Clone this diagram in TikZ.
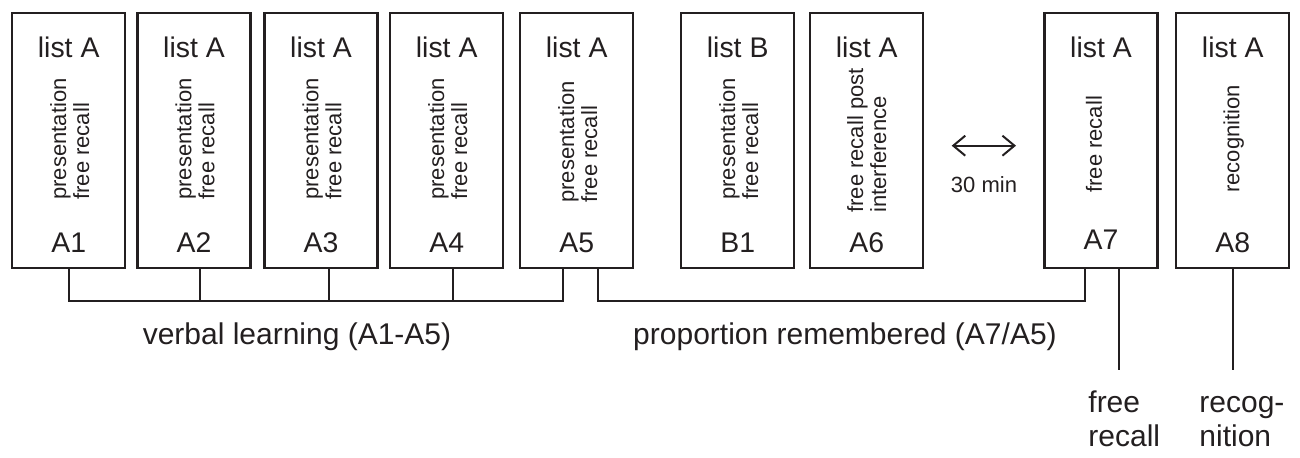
\documentclass[tikz,border=0pt]{standalone}
\usepackage{fontspec}
\setmainfont{Liberation Sans}
\usetikzlibrary{arrows.meta,calc}
\definecolor{ink}{RGB}{35,31,32}
\begin{document}
\begin{tikzpicture}[x=0.5pt,y=-0.5pt,
  every node/.style={text=ink},
  box/.style={draw=ink,line width=1.2pt,minimum width=56.5pt,minimum height=127.35pt,inner sep=0pt,anchor=north west},
  head/.style={font=\fontsize{14.2}{17}\selectfont,anchor=base,inner sep=0pt},
  rot/.style={font=\fontsize{11}{11.5}\selectfont,rotate=90,anchor=west,align=left,inner sep=0pt},
  big/.style={font=\fontsize{15}{17}\selectfont,inner sep=0pt},
  small/.style={font=\fontsize{11}{13}\selectfont,inner sep=0pt},
  conn/.style={draw=ink,line width=1pt},
  dbl/.style={draw=ink,line width=1pt,{Straight Barb[length=6pt,width=10pt,line width=1pt]}-{Straight Barb[length=6pt,width=10pt,line width=1pt]}}]
\useasboundingbox (0,0) rectangle (1300,458);

% boxes
\node[box] (A1) at (11,12) {};
\node[box] (A2) at (136.3,12) {};
\node[box] (A3) at (263.3,12) {};
\node[box] (A4) at (389,12) {};
\node[box] (A5) at (519,12) {};
\node[box] (B1) at (680,12) {};
\node[box] (A6) at (809,12) {};
\node[box] (A7) at (1043.3,12) {};
\node[box] (A8) at (1175,12) {};

% titles
\node[head] (A1h) at ($(A1.north)+(0,46)$) {list A};
\node[head] (A2h) at ($(A2.north)+(0,46)$) {list A};
\node[head] (A3h) at ($(A3.north)+(0,46)$) {list A};
\node[head] (A4h) at ($(A4.north)+(0,46)$) {list A};
\node[head] (A5h) at ($(A5.north)+(0,46)$) {list A};
\node[head] (B1h) at ($(B1.north)+(0,46)$) {list B};
\node[head] (A6h) at ($(A6.north)+(0,46)$) {list A};
\node[head] (A7h) at ($(A7.north)+(0,46)$) {list A};
\node[head] (A8h) at ($(A8.north)+(0,46)$) {list A};

% codes
\node[head] (A1c) at ($(A1.south)+(0,-17)$) {A1};
\node[head] (A2c) at ($(A2.south)+(0,-17)$) {A2};
\node[head] (A3c) at ($(A3.south)+(0,-17)$) {A3};
\node[head] (A4c) at ($(A4.south)+(0,-17)$) {A4};
\node[head] (A5c) at ($(A5.south)+(0,-17)$) {A5};
\node[head] (B1c) at ($(B1.south)+(0,-17)$) {B1};
\node[head] (A6c) at ($(A6.south)+(0,-17)$) {A6};
\node[head] (A7c) at ($(A7.south)+(0,-20)$) {A7};
\node[head] (A8c) at ($(A8.south)+(0,-17)$) {A8};

% rotated texts
\node[rot] (A1r) at ($(A1.north)+(1,188)$) {presentation\\free recall};
\node[rot] (A2r) at ($(A2.north)+(1,188)$) {presentation\\free recall};
\node[rot] (A3r) at ($(A3.north)+(1,188)$) {presentation\\free recall};
\node[rot] (A4r) at ($(A4.north)+(1,188)$) {presentation\\free recall};
\node[rot] (A5r) at ($(A5.north)+(1,191)$) {presentation\\free recall};
\node[rot] (B1r) at ($(B1.north)+(1,188)$) {presentation\\free recall};
\node[rot] (A6r) at ($(A6.north)+(0,201)$) {free recall post\\interference};
\node[rot] (A7r) at ($(A7.north)+(-7,181)$) {free recall};
\node[rot] (A8r) at ($(A8.north)+(1,181)$) {recognition};

% 30 min arrow
\coordinate (arL) at (951.7,145.7);
\coordinate (arR) at (1016,145.7);
\draw[dbl] (arL) -- (arR);
\node[small,anchor=base] (min) at (984,193) {30 min};

% verbal learning bracket
\draw[conn] (A1.south) |- ($(A5.south)+(-13.8,31.6)$) -- ($(A5.south)+(-13.8,0)$);
\draw[conn] ([xshift=3pt]A2.south) -- ++(0,31.6);
\draw[conn] ([xshift=3.75pt]A3.south) -- ++(0,31.6);
\draw[conn] ([xshift=3.1pt]A4.south) -- ++(0,31.6);

% proportion bracket
\draw[conn] ($(A5.south)+(21.2,0)$) |- ($(A7.south)+(-16.5,31.6)$) -- ($(A7.south)+(-16.5,0)$);

% legs
\draw[conn] ($(A7.south)+(17.5,0)$) -- ++(0,101.3) coordinate (frTop);
\draw[conn] (A8.south) -- ++(0,101.3) coordinate (rcTop);

% labels
\node[big,anchor=base] (vl) at (297,345) {verbal learning (A1-A5)};
\node[big,anchor=base] (pr) at (845,345) {proportion remembered (A7/A5)};
\node[big,anchor=base west,align=left] (fr) at (1088,447) {free\\recall};
\node[big,anchor=base west,align=left] (rc) at (1199,447) {recog-\\nition};
\end{tikzpicture}
\end{document}
